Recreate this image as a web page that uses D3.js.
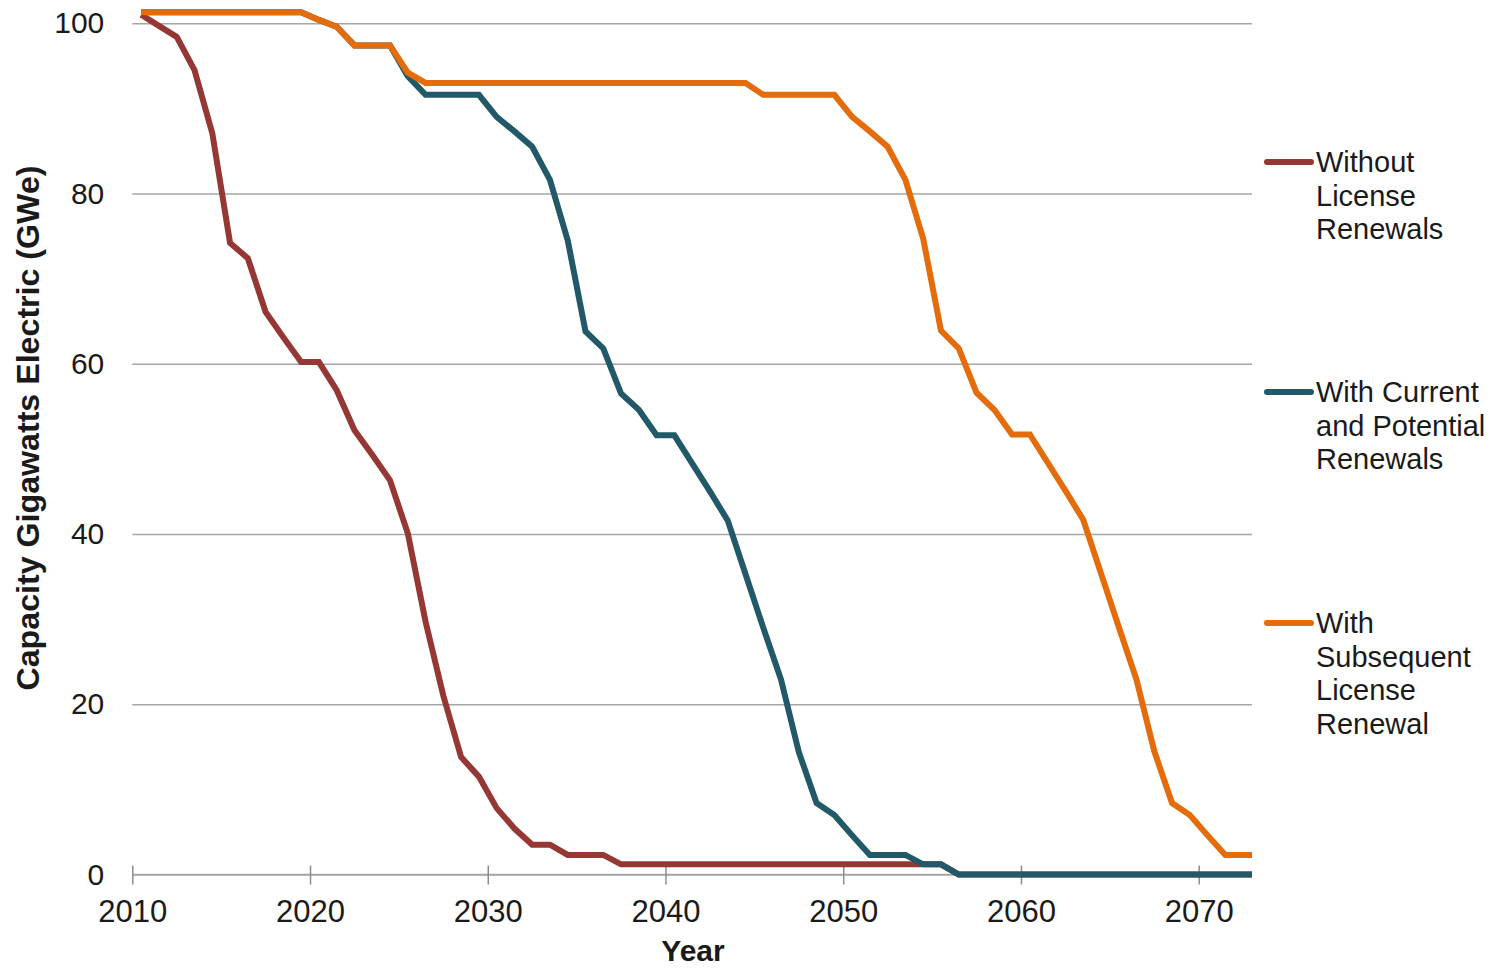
<!DOCTYPE html>
<html><head><meta charset="utf-8">
<script src="https://cdn.jsdelivr.net/npm/d3@7"></script>
<style>
html,body{margin:0;padding:0;background:#fff;}
svg{display:block;font-family:"Liberation Sans",Arial,sans-serif;}
</style></head>
<body>
<svg id="chart" width="1497" height="970"></svg>
<script>
// Years 2010..2073 (each value plotted at the middle of its year slot)
const years = d3.range(2010, 2074);

const withoutRenewals = [
  101.0, 99.7, 98.4, 94.5, 87.1, 74.2, 72.4, 66.1, 63.1, 60.2,
  60.2, 56.9, 52.2, 49.3, 46.3, 40.1, 29.7, 21.0, 13.8, 11.5,
  7.8, 5.4, 3.5, 3.5, 2.3, 2.3, 2.3, 1.2, 1.2, 1.2,
  1.2, 1.2, 1.2, 1.2, 1.2, 1.2, 1.2, 1.2, 1.2, 1.2,
  1.2, 1.2, 1.2, 1.2, 1.2, 1.2, 0, 0, 0, 0,
  0, 0, 0, 0, 0, 0, 0, 0, 0, 0,
  0, 0, 0, 0
];

const currentAndPotential = [
  101.3, 101.3, 101.3, 101.3, 101.3, 101.3, 101.3, 101.3, 101.3, 101.3,
  100.4, 99.6, 97.4, 97.4, 97.4, 93.8, 91.6, 91.6, 91.6, 91.6,
  89.0, 87.3, 85.5, 81.6, 74.5, 63.8, 61.8, 56.5, 54.6, 51.6,
  51.6, 48.3, 45.0, 41.6, 35.3, 29.0, 22.9, 14.4, 8.4, 7.0,
  4.6, 2.3, 2.3, 2.3, 1.2, 1.2, 0, 0, 0, 0,
  0, 0, 0, 0, 0, 0, 0, 0, 0, 0,
  0, 0, 0, 0
];

const subsequentRenewal = [
  101.3, 101.3, 101.3, 101.3, 101.3, 101.3, 101.3, 101.3, 101.3, 101.3,
  100.4, 99.6, 97.4, 97.4, 97.4, 94.2, 93.0, 93.0, 93.0, 93.0,
  93.0, 93.0, 93.0, 93.0, 93.0, 93.0, 93.0, 93.0, 93.0, 93.0,
  93.0, 93.0, 93.0, 93.0, 93.0, 91.6, 91.6, 91.6, 91.6, 91.6,
  89.0, 87.3, 85.5, 81.6, 74.7, 63.9, 61.8, 56.6, 54.6, 51.7,
  51.7, 48.4, 45.1, 41.7, 35.4, 29.1, 22.9, 14.5, 8.4, 7.0,
  4.6, 2.3, 2.3, 2.3
];

const seriesNames = [
  ["Without", "License", "Renewals"],
  ["With Current", "and Potential", "Renewals"],
  ["With", "Subsequent", "License", "Renewal"]
];
const seriesColors = ["#953735", "#215968", "#E46C0A"];
const seriesValues = [withoutRenewals, currentAndPotential, subsequentRenewal];

const xTicks = [2010, 2020, 2030, 2040, 2050, 2060, 2070];
const yTicks = [0, 20, 40, 60, 80, 100];

const svg = d3.select("#chart");
const pLeft = 132.3, pRight = 1252, pTop = 23.3, pBottom = 874.5;

const x = d3.scaleLinear().domain([2010, 2073]).range([pLeft, pRight]);
const y = d3.scaleLinear().domain([0, 100]).range([pBottom, pTop]);

// clip
svg.append("defs").append("clipPath").attr("id", "plotclip")
  .append("rect").attr("x", pLeft - 10).attr("y", 0)
  .attr("width", pRight - pLeft + 10).attr("height", pBottom + 10);

// gridlines
const yAxis = d3.axisLeft(y).tickValues(yTicks).tickSize(-(pRight - pLeft)).tickPadding(28)
  .tickFormat(d3.format("d"));
const gy = svg.append("g").attr("transform", `translate(${pLeft},0)`).call(yAxis);
gy.select(".domain").remove();
gy.selectAll(".tick line").attr("stroke", "#a6a6a6").attr("stroke-width", 1.5);
gy.selectAll(".tick text").attr("font-size", 30).attr("fill", "#1a1a1a")
  .attr("font-family", "'Liberation Sans', Arial, sans-serif");

// x axis
const xAxis = d3.axisBottom(x).tickValues(xTicks).tickSize(10).tickPadding(15)
  .tickFormat(d3.format("d"));
const gx = svg.append("g").attr("transform", `translate(0,${pBottom})`).call(xAxis);
gx.select(".domain").attr("stroke", "#a6a6a6").attr("stroke-width", 1.5)
  .attr("d", `M${pLeft},0H${pRight}`);
gx.selectAll(".tick line").attr("stroke", "#8c8c8c").attr("stroke-width", 1.5)
  .attr("y1", -9).attr("y2", 10);
gx.selectAll(".tick text").attr("font-size", 31).attr("fill", "#1a1a1a")
  .attr("font-family", "'Liberation Sans', Arial, sans-serif");

// lines
const line = d3.line()
  .x((d, i) => x(years[i] + 0.5))
  .y(d => y(d));

const gLines = svg.append("g").attr("clip-path", "url(#plotclip)");
seriesValues.forEach((vals, k) => {
  gLines.append("path").datum(vals)
    .attr("d", line)
    .attr("fill", "none")
    .attr("stroke", seriesColors[k])
    .attr("stroke-width", 6)
    .attr("stroke-linejoin", "miter")
    .attr("stroke-linecap", "butt");
});

// axis titles
svg.append("text")
  .attr("transform", `translate(39,428) rotate(-90)`)
  .attr("text-anchor", "middle")
  .attr("font-size", 31).attr("font-weight", "bold").attr("fill", "#1a1a1a")
  .attr("textLength", 525).attr("lengthAdjust", "spacingAndGlyphs")
  .text("Capacity Gigawatts Electric (GWe)");

svg.append("text")
  .attr("x", 693).attr("y", 961)
  .attr("text-anchor", "middle")
  .attr("font-size", 30).attr("font-weight", "bold").attr("fill", "#1a1a1a")
  .text("Year");

// legend
const legendY = [162, 392, 623];
const legend = svg.append("g");
seriesNames.forEach((lines, k) => {
  const g = legend.append("g").attr("transform", `translate(0,${legendY[k]})`);
  g.append("line").attr("x1", 1267).attr("x2", 1311).attr("y1", 0).attr("y2", 0)
    .attr("stroke", seriesColors[k]).attr("stroke-width", 6).attr("stroke-linecap", "round");
  lines.forEach((t, j) => {
    g.append("text").attr("x", 1316).attr("y", j * 33.7 + 10)
      .attr("font-size", 29).attr("fill", "#1a1a1a").text(t);
  });
});
</script>
</body></html>
